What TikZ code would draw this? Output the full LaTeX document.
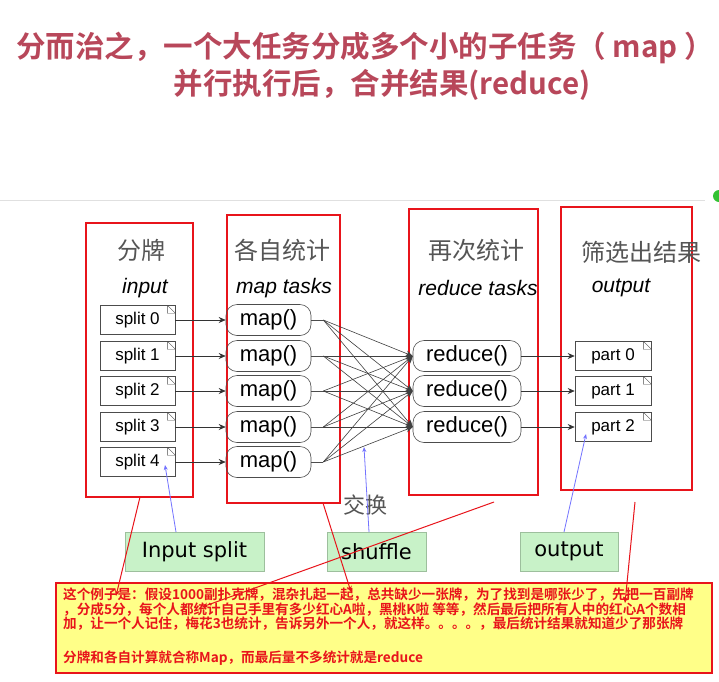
\documentclass[tikz,border=0pt]{standalone}
\usepackage{fontspec}
\setmainfont{Liberation Sans}
\newfontfamily\cjk{Noto Sans CJK SC}
\newfontfamily\cjkb{Noto Sans CJK SC Bold}
\newfontfamily\dv{DejaVu Sans}
\usetikzlibrary{arrows.meta}
\definecolor{titlered}{HTML}{B8475A}
\definecolor{boxred}{HTML}{E8141B}
\definecolor{gfill}{HTML}{C8F2C8}
\definecolor{gedge}{HTML}{9DBF9D}
\definecolor{ylw}{HTML}{FFFF88}
\definecolor{hdr}{HTML}{555555}
\tikzset{
  redbox/.style={draw=boxred,line width=1.8pt},
  splitbox/.style={draw=black!70,line width=0.6pt,minimum width=75pt,minimum height=29pt,inner sep=0pt,font=\fontsize{17}{19}\selectfont},
  mapbox/.style={draw=black!70,line width=0.6pt,rounded corners=11pt,minimum height=31pt,inner sep=0pt,font=\fontsize{22}{24}\selectfont},
  hdrcn/.style={text=hdr,font=\cjk\fontsize{24}{26}\selectfont},
  hdren/.style={font=\itshape\fontsize{21}{23}\selectfont},
  arr/.style={-{Stealth[length=7pt,width=6pt]},black!80,line width=0.7pt},
  xarr/.style={-{Stealth[length=7pt,width=6pt]},black!75,line width=0.6pt},
  gbox/.style={draw=gedge,fill=gfill,line width=0.8pt,inner sep=0pt,font=\dv\fontsize{21}{23}\selectfont},
  bline/.style={draw=blue!55!white,line width=0.8pt,-{Stealth[length=5pt,width=4pt]}},
  rline/.style={draw=boxred,line width=1pt,-{Stealth[length=6pt,width=5pt]}},
}
\newcommand{\cornermark}[1]{\draw[black!70,line width=0.4pt] ([xshift=-8pt]#1.north east) rectangle ([yshift=-8pt]#1.north east) ([xshift=-8pt]#1.north east) -- ([yshift=-8pt]#1.north east);}
\begin{document}
\begin{tikzpicture}[x=1pt,y=-1pt]
\useasboundingbox (0,0) rectangle (719,681);
\fill[white] (0,0) rectangle (719,681);
% title
\node[text=titlered,font=\cjkb\fontsize{29.5}{31}\selectfont] (t1) at (365,48) {分而治之，一个大任务分成多个小的子任务（ map ）};
\node[text=titlered,font=\cjkb\fontsize{29.5}{31}\selectfont] (t2) at (382,85) {并行执行后，合并结果(reduce)};
\draw[black!12,line width=0.6pt] (0,200) -- (705,200);
\fill[green!70!black!80] (719,196) circle (6pt);
% red boxes
\draw[redbox] (86,223) rectangle (193,497);
\draw[redbox] (227,215) rectangle (340,503);
\draw[redbox] (409,209) rectangle (538,495);
\draw[redbox] (561,207) rectangle (692,490);
% headers
\node[hdrcn] (h1) at (141,250) {分牌};
\node[hdren] (e1) at (145,288) {input};
\node[hdrcn] (h2) at (282,250) {各自统计};
\node[hdren] (e2) at (284,288) {map tasks};
\node[hdrcn] (h3) at (476,250) {再次统计};
\node[hdren] (e3) at (478,288) {reduce tasks};
\node[hdrcn] (h4) at (641,252) {筛选出结果};
\node[hdren] (e4) at (621,288) {output};
% splits and maps
\foreach \i/\y in {0/320,1/356,2/391,3/427,4/462}{
  \node[splitbox] (s\i) at (137.5,\y) {split \i};
  \cornermark{s\i}
  \node[mapbox,minimum width=85pt] (m\i) at (268.5,\y) {map()};
  \draw[arr] (s\i.east) -- (m\i.west);
}
% reduces and parts
\foreach \j/\y in {0/356,1/391,2/427}{
  \node[mapbox,minimum width=108pt] (r\j) at (467,\y) {reduce()};
  \node[splitbox,minimum width=76pt] (p\j) at (613,\y) {part \j};
  \cornermark{p\j}
  \draw[arr] (r\j.east) -- (p\j.west);
}
\foreach \i in {0,...,4}{
  \coordinate (mo\i) at ([xshift=12pt]m\i.east);
  \draw[black!70,line width=0.6pt] (m\i.east) -- (mo\i);
  \foreach \j in {0,1,2}{
    \draw[xarr] (mo\i) -- (r\j.west);
  }
}
\node[text=hdr,font=\cjk\fontsize{22}{24}\selectfont] (jh) at (365,505) {交换};
% green labels
\node[gbox,minimum width=139pt,minimum height=39pt] (g1) at (194.5,551.5) {Input split};
\node[gbox,minimum width=99pt,minimum height=39pt] (g2) at (376.5,551.5) {shuffle};
\node[gbox,minimum width=98pt,minimum height=39pt] (g3) at (569,551.5) {output};
\coordinate (b1) at (165,465);
\coordinate (b2) at (364,447);
\coordinate (b3) at (586,434);
\draw[bline] (176,532) -- (b1);
\draw[bline] (369,532) -- (b2);
\draw[bline] (564,532) -- (b3);
% yellow note
\node[draw=boxred,line width=1.5pt,fill=ylw,minimum width=656pt,minimum height=90pt,anchor=north west,inner sep=0pt] (note) at (55,582) {};
\node[anchor=north west,text=boxred,font=\cjkb\fontsize{13.6}{14.2}\selectfont,align=left,inner sep=0pt] (nt) at (63,588)
{这个例子是：假设1000副扑克牌，混杂扎起一起，总共缺少一张牌，为了找到是哪张少了，先把一百副牌\\
，分成5分，每个人都统计自己手里有多少红心A啦，黑桃K啦 等等，然后最后把所有人中的红心A个数相\\
加，让一个人记住，梅花3也统计，告诉另外一个人，就这样。。。。，最后统计结果就知道少了那张牌\\[20pt]
分牌和各自计算就合称Map，而最后量不多统计就是reduce};
% red pointers
\draw[rline] (140,497) -- (116,596);
\draw[rline] (323,503) -- (351,592);
\draw[rline] (494,502) -- (202,607);
\draw[rline] (635,502) -- (625,603);
\end{tikzpicture}
\end{document}
